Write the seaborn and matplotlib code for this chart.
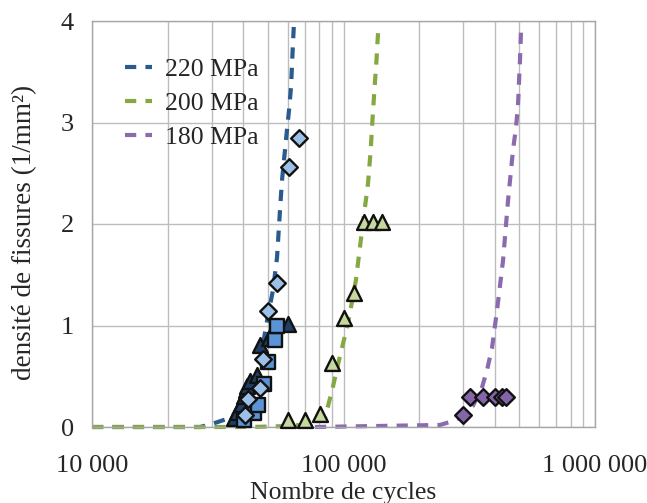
import numpy as np
import pandas as pd
import matplotlib
matplotlib.use("Agg")
import matplotlib.pyplot as plt
import seaborn as sns
from matplotlib.ticker import FixedLocator, LogLocator, NullFormatter, FixedFormatter

# ---------------- data ----------------
# 220 MPa – three specimens
n220_diam = [40500, 41600, 46560, 47970, 49960, 54550, 60700, 66500]
d220_diam = [0.12, 0.28, 0.38, 0.67, 1.14, 1.42, 2.56, 2.85]
n220_sq = [40200, 44090, 45850, 48430, 50230, 53430, 54250]
d220_sq = [0.07, 0.14, 0.22, 0.42, 0.64, 0.855, 1.00]
n220_tri = [36700, 37600, 39000, 40200, 40850, 41220, 42480, 45170, 46560, 50700, 60000]
d220_tri = [0.09, 0.15, 0.23, 0.31, 0.36, 0.40, 0.45, 0.51, 0.81, 0.88, 1.01]
# 200 MPa
n200 = [60200, 70300, 80600, 90000, 100400, 110000, 120600, 131000, 142000]
d200 = [0.07, 0.07, 0.13, 0.63, 1.07, 1.32, 2.02, 2.02, 2.02]
# 180 MPa
n180 = [299500, 318400, 357500, 400400, 425600, 442600]
d180 = [0.12, 0.30, 0.30, 0.30, 0.30, 0.30]

# dashed trend curves
c220_n = [10000, 26880, 30000, 35380, 40580, 44480, 47420, 50100, 52460, 54410,
          55920, 56950, 59620, 60720, 61850, 62420, 62990, 63570]
c220_d = [0.0, 0.0, 0.03, 0.09, 0.22, 0.41, 0.76, 1.10, 1.35, 1.67,
          2.14, 2.43, 2.93, 3.12, 3.35, 3.57, 3.79, 3.99]
c200_n = [10000, 42490, 61290, 73600, 84420, 90850, 96850, 104200, 112100, 118500,
          125150, 128300, 129800, 131500, 133400, 135300, 137150]
c200_d = [0.0, 0.0, 0.01, 0.03, 0.09, 0.40, 0.70, 1.02, 1.45, 1.94,
          2.40, 2.73, 2.95, 3.17, 3.40, 3.62, 3.88]
c180_n = [77000, 241900, 265200, 296000, 327300, 355400, 372100, 389500, 407800,
          430800, 451000, 472100, 485200, 494100, 498700, 503300, 507900]
c180_d = [0.0, 0.02, 0.05, 0.10, 0.21, 0.39, 0.56, 0.78, 1.15,
          1.64, 2.23, 2.73, 2.95, 3.17, 3.40, 3.62, 3.90]

legend_labels = ["220 MPa", "200 MPa", "180 MPa"]
x_ticks = [1e4, 1e5, 1e6]
x_tick_labels = ["10 000", "100 000", "1 000 000"]
y_ticks = [0, 1, 2, 3, 4]
x_label = "Nombre de cycles"
y_label = "densité de fissures (1/mm²)"

# ---------------- style ----------------
sns.set_style("white")
plt.rcParams["font.family"] = ["Liberation Serif", "DejaVu Serif"]
plt.rcParams["font.size"] = 18

col220 = "#295B8E"
col200 = "#86A843"
col180 = "#8A6BAE"
dash = (0, (2.7, 2.2))
LW = 3.0

fig = plt.figure(figsize=(6.47, 5.03), dpi=100)
ax = fig.add_axes([92 / 647, 1 - 427 / 503, (595 - 92) / 647, (427 - 21) / 503])
ax.set_xscale("log")

curves = [(c220_n, c220_d, col220), (c200_n, c200_d, col200), (c180_n, c180_d, col180)]
handles = []
for (cn, cd, col), lab in zip(curves, legend_labels):
    df = pd.DataFrame({"N": cn, "d": cd})
    sns.lineplot(data=df, x="N", y="d", ax=ax, color=col,
                 sort=False, estimator=None, zorder=2)
    ln = ax.lines[-1]
    ln.set_linewidth(LW)
    ln.set_linestyle(dash)
    ln.set_dash_capstyle("butt")
    ln.set_clip_on(False)
    handles.append(ln)

edge = "#111111"
markers = [
    (n220_tri, d220_tri, "^", "#1F3F66", 115),
    (n220_sq, d220_sq, "s", "#5A93D6", 95),
    (n220_diam, d220_diam, "D", "#9DC0E8", 72),
    (n200, d200, "^", "#C5D89E", 115),
    (n180, d180, "D", "#8466A8", 72),
]
for xs, ys, m, fc, s in markers:
    df = pd.DataFrame({"N": xs, "d": ys})
    sns.scatterplot(data=df, x="N", y="d", ax=ax, marker=m, s=s, color=fc,
                    edgecolor=edge, linewidth=1.7, zorder=3, legend=False, clip_on=False)

ax.set_xlim(1e4, 1e6)
ax.set_ylim(0, 4)
ax.xaxis.set_major_locator(FixedLocator(x_ticks))
ax.xaxis.set_major_formatter(FixedFormatter(x_tick_labels))
ax.xaxis.set_minor_locator(LogLocator(base=10, subs=np.arange(2, 10)))
ax.xaxis.set_minor_formatter(NullFormatter())
ax.set_yticks(y_ticks)
ax.set_yticklabels([str(v) for v in y_ticks])

ax.grid(True, which="major", axis="both", color="#BDBDBD", linewidth=1.0)
ax.grid(True, which="minor", axis="x", color="#BDBDBD", linewidth=1.0)
ax.set_axisbelow(True)
for sp in ax.spines.values():
    sp.set_color("#A6A6A6")
    sp.set_linewidth(1.0)
ax.tick_params(axis="both", which="both", length=0)
ax.tick_params(axis="x", pad=20, labelsize=19)
ax.tick_params(axis="y", pad=13, labelsize=19)

ax.set_xlabel(x_label, fontsize=18.5, labelpad=4)
ax.set_ylabel(y_label, fontsize=19.5)
ax.yaxis.set_label_coords((37 - 92) / 503, (427 - 232) / 406)

ax.legend(handles=handles, labels=legend_labels, frameon=False, loc="upper left",
          bbox_to_anchor=((125 - 92) / 503, (427 - 58) / 406), borderaxespad=0,
          borderpad=0, handlelength=1.05, handletextpad=0.5, labelspacing=0.42,
          fontsize=18.5)

fig.savefig("out.png", dpi=100)
